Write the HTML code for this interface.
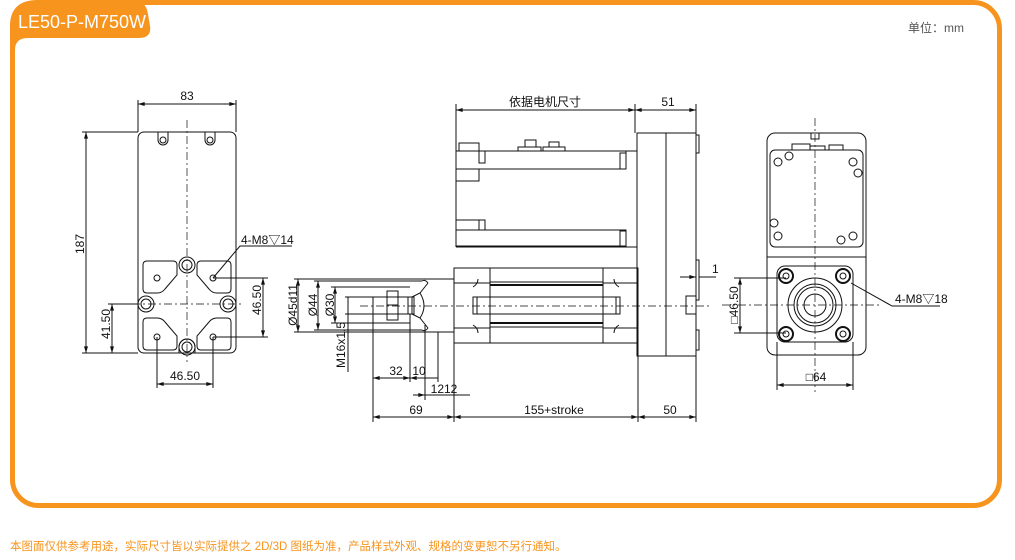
<!DOCTYPE html>
<html><head><meta charset="utf-8"><style>
body{margin:0;background:#fff;width:1015px;height:560px;overflow:hidden}
svg{display:block}
text{font-family:"Liberation Sans","Noto Sans CJK SC",sans-serif;fill:#111}
</style></head><body>
<svg width="1015" height="560" viewBox="0 0 1015 560" xmlns="http://www.w3.org/2000/svg">
<defs>
<marker id="a" viewBox="0 0 10 6" refX="10" refY="3" markerWidth="8" markerHeight="4" orient="auto-start-reverse"><path d="M0,0L10,3L0,6z" fill="#111"/></marker>
</defs>
<!-- frame -->
<rect x="12.5" y="2.5" width="987" height="503" rx="26" fill="none" stroke="#F7941D" stroke-width="5"/>
<path d="M10,26 Q10,0 38,0 L132,0 Q146,0 148,14 L150,26 Q152,38 138,38 L28,38 Q15,38 15,50 L10,50 Z" fill="#F7941D"/>
<text x="18" y="28" font-size="18" style="fill:#fff">LE50-P-M750W</text>
<text x="908" y="32" font-size="12" style="fill:#555">单位：mm</text>
<text x="10" y="550" font-size="11.5" style="fill:#F7941D">本图面仅供参考用途，实际尺寸皆以实际提供之 2D/3D 图纸为准，产品样式外观、规格的变更恕不另行通知。</text>

<g stroke="#111" stroke-width="1" fill="none">
<!-- LEFT VIEW -->
<rect x="138" y="132" width="98" height="221" rx="6"/>
<line x1="187" y1="120" x2="187" y2="362" stroke-dasharray="8,3,2,3" stroke-width="0.7"/>
<line x1="132" y1="304" x2="242" y2="304" stroke-dasharray="8,3,2,3" stroke-width="0.7"/>
<path d="M158,132 v8 a5,5 0 0 0 10,0 v-8 M205,132 v8 a5,5 0 0 0 10,0 v-8"/>
<circle cx="163" cy="140" r="3"/><circle cx="210" cy="140" r="3"/>
<circle cx="187" cy="265" r="8"/><circle cx="187" cy="265" r="5"/>
<circle cx="187" cy="347" r="8"/><circle cx="187" cy="347" r="5"/>
<path d="M179,353 v-6 a8,8 0 0 1 16,0 v6"/>
<circle cx="146" cy="304" r="8"/><circle cx="146" cy="304" r="5"/>
<circle cx="228" cy="304" r="8"/><circle cx="228" cy="304" r="5"/>
<path d="M147,261 h26 q4,0 4,4 v10 l-12,14 q-3,4 -8,4 h-10 q-4,0 -4,-4 v-24 q0,-4 4,-4 z"/>
<path d="M227,261 h-26 q-4,0 -4,4 v10 l12,14 q3,4 8,4 h10 q4,0 4,-4 v-24 q0,-4 -4,-4 z"/>
<path d="M147,350 h26 q4,0 4,-4 v-10 l-12,-14 q-3,-4 -8,-4 h-10 q-4,0 -4,4 v24 q0,4 4,4 z"/>
<path d="M227,350 h-26 q-4,0 -4,-4 v-10 l12,-14 q3,-4 8,-4 h10 q4,0 4,4 v24 q0,4 -4,4 z"/>
<circle cx="157" cy="278" r="3"/><circle cx="213" cy="278" r="3"/><circle cx="157" cy="337" r="3"/><circle cx="213" cy="337" r="3"/>
<!-- left dims -->
<line x1="138" y1="100" x2="138" y2="132"/><line x1="236" y1="100" x2="236" y2="132"/>
<line x1="138" y1="104" x2="236" y2="104" marker-start="url(#a)" marker-end="url(#a)"/>
<line x1="82" y1="132" x2="138" y2="132"/><line x1="82" y1="353" x2="138" y2="353"/>
<line x1="86" y1="132" x2="86" y2="353" marker-start="url(#a)" marker-end="url(#a)"/>
<line x1="108" y1="304" x2="138" y2="304"/>
<line x1="112" y1="304" x2="112" y2="353" marker-start="url(#a)" marker-end="url(#a)"/>
<line x1="213" y1="278" x2="268" y2="278"/><line x1="213" y1="337" x2="268" y2="337"/>
<line x1="263" y1="278" x2="263" y2="337" marker-start="url(#a)" marker-end="url(#a)"/>
<line x1="157" y1="337" x2="157" y2="388"/><line x1="213" y1="337" x2="213" y2="388"/>
<line x1="157" y1="384" x2="213" y2="384" marker-start="url(#a)" marker-end="url(#a)"/>
<path d="M213,278 L240,246 H292"/>

<!-- MIDDLE VIEW -->
<line x1="456" y1="104" x2="456" y2="247"/><line x1="635" y1="104" x2="635" y2="133"/><line x1="696" y1="104" x2="696" y2="133"/>
<line x1="456" y1="110" x2="635" y2="110" marker-start="url(#a)" marker-end="url(#a)"/>
<line x1="635" y1="110" x2="696" y2="110" marker-start="url(#a)" marker-end="url(#a)"/>
<line x1="456" y1="151" x2="637" y2="151"/>
<rect x="456" y="151" width="170" height="18"/>
<rect x="456" y="169" width="23" height="12"/>
<rect x="459" y="143" width="20" height="8"/>
<rect x="479" y="151" width="6" height="12"/>
<rect x="518" y="147" width="23" height="4"/><rect x="525" y="140" width="11" height="7"/>
<rect x="543" y="147" width="22" height="4"/><rect x="549" y="142" width="10" height="5"/>
<rect x="620" y="153" width="6" height="16"/>
<rect x="456" y="220" width="23" height="10"/><rect x="479" y="220" width="6" height="10"/>
<rect x="456" y="230" width="170" height="16"/>
<rect x="620" y="231" width="6" height="15"/>
<line x1="456" y1="247" x2="637" y2="247"/>
<rect x="637" y="133" width="59" height="223"/>
<line x1="666" y1="133" x2="666" y2="356"/>
<path d="M696,135 h3 v18 h-3 M696,260 h3 v40 h-3 M696,330 h3 v20 h-3"/>
<rect x="454" y="268" width="184" height="75"/>
<line x1="490" y1="268" x2="490" y2="343"/><line x1="603" y1="268" x2="603" y2="343"/>
<line x1="490" y1="282" x2="603" y2="282"/><line x1="490" y1="285" x2="603" y2="285" stroke-width="2"/>
<line x1="490" y1="323" x2="603" y2="323" stroke-width="2"/><line x1="490" y1="327" x2="603" y2="327"/>
<line x1="454" y1="283" x2="490" y2="283"/><line x1="454" y1="328" x2="490" y2="328"/>
<line x1="603" y1="283" x2="638" y2="283"/><line x1="603" y1="328" x2="638" y2="328"/>
<rect x="473" y="297" width="147" height="17"/>
<line x1="477" y1="297" x2="477" y2="314"/><line x1="616" y1="297" x2="616" y2="314"/>
<path d="M478,279 q0,5 -5,8 M478,333 q0,-5 -5,-8 M614,279 q0,5 5,8 M614,333 q0,-5 5,-8"/>
<rect x="686" y="296" width="10" height="18"/>
<line x1="360" y1="306" x2="710" y2="306" stroke-dasharray="8,3,2,3" stroke-width="0.7"/>
<rect x="373" y="297" width="41" height="17"/>
<rect x="387" y="291" width="11" height="29"/>
<line x1="387" y1="305" x2="398" y2="305"/>
<rect x="408" y="297" width="4" height="17"/>
<path d="M412,297 L420,293 L428,283 M412,314 L420,318 L428,328 M420,293 q8,13 0,25 M428,283 q-3,-4 -6,-2 M428,328 q-3,4 -6,2"/>
<line x1="428" y1="279" x2="454" y2="279"/><line x1="428" y1="332" x2="454" y2="332"/>
<line x1="294" y1="279" x2="428" y2="279"/><line x1="294" y1="332" x2="428" y2="332"/>
<line x1="298" y1="279" x2="298" y2="332" marker-start="url(#a)" marker-end="url(#a)"/>
<line x1="314" y1="281" x2="422" y2="281"/><line x1="314" y1="330" x2="422" y2="330"/>
<line x1="318" y1="281" x2="318" y2="330" marker-start="url(#a)" marker-end="url(#a)"/>
<line x1="331" y1="287" x2="410" y2="287"/><line x1="331" y1="323" x2="410" y2="323"/>
<line x1="335" y1="287" x2="335" y2="323" marker-start="url(#a)" marker-end="url(#a)"/>
<line x1="345" y1="297" x2="373" y2="297"/><line x1="345" y1="314" x2="373" y2="314"/>
<line x1="348" y1="297" x2="348" y2="372"/>
<line x1="373" y1="314" x2="373" y2="422"/><line x1="410" y1="314" x2="410" y2="382"/>
<line x1="425" y1="325" x2="425" y2="400"/><line x1="438" y1="332" x2="438" y2="382"/>
<line x1="454" y1="343" x2="454" y2="422"/><line x1="638" y1="343" x2="638" y2="422"/><line x1="696" y1="356" x2="696" y2="422"/>
<line x1="373" y1="378" x2="410" y2="378" marker-start="url(#a)" marker-end="url(#a)"/>
<line x1="410" y1="378" x2="438" y2="378" marker-start="url(#a)"/>
<line x1="413" y1="395" x2="425" y2="395" marker-end="url(#a)"/>
<line x1="425" y1="395" x2="470" y2="395"/>
<line x1="373" y1="417" x2="454" y2="417" marker-start="url(#a)" marker-end="url(#a)"/>
<line x1="454" y1="417" x2="638" y2="417" marker-start="url(#a)" marker-end="url(#a)"/>
<line x1="638" y1="417" x2="696" y2="417" marker-start="url(#a)" marker-end="url(#a)"/>
<line x1="680" y1="277" x2="696" y2="277" marker-end="url(#a)"/><line x1="699" y1="277" x2="716" y2="277"/>

<!-- RIGHT VIEW -->
<rect x="767" y="133" width="99" height="222" rx="8"/>
<line x1="767" y1="257" x2="866" y2="257"/>
<line x1="815" y1="118" x2="815" y2="392" stroke-dasharray="8,3,2,3" stroke-width="0.7"/>
<line x1="722" y1="305" x2="880" y2="305" stroke-dasharray="8,3,2,3" stroke-width="0.7"/>
<rect x="770" y="150" width="93" height="97" rx="5"/>
<path d="M792,150 v-6 h18 v6 M810,146 h15 v4 M829,150 v-5 h14 v5"/>
<rect x="811" y="133" width="8" height="6"/>
<circle cx="778" cy="162" r="4"/><circle cx="789" cy="156" r="4"/><circle cx="853" cy="162" r="4"/><circle cx="858" cy="173" r="4"/>
<circle cx="774" cy="223" r="4"/><circle cx="778" cy="236" r="4"/><circle cx="853" cy="236" r="4"/><circle cx="841" cy="240" r="4"/>
<rect x="777" y="266" width="76" height="76" rx="8"/>
<circle cx="815" cy="305" r="27"/><circle cx="815" cy="305" r="21"/><circle cx="815" cy="305" r="18"/><circle cx="815" cy="305" r="11"/>
<circle cx="786" cy="276" r="7" stroke-width="2"/><circle cx="786" cy="276" r="3"/>
<circle cx="843" cy="276" r="7" stroke-width="2"/><circle cx="843" cy="276" r="3"/>
<circle cx="786" cy="334" r="7" stroke-width="2"/><circle cx="786" cy="334" r="3"/>
<circle cx="843" cy="334" r="7" stroke-width="2"/><circle cx="843" cy="334" r="3"/>
<line x1="734" y1="278" x2="786" y2="278"/><line x1="734" y1="333" x2="786" y2="333"/>
<line x1="740" y1="278" x2="740" y2="333" marker-start="url(#a)" marker-end="url(#a)"/>
<line x1="777" y1="342" x2="777" y2="390"/><line x1="853" y1="342" x2="853" y2="390"/>
<line x1="777" y1="385" x2="853" y2="385" marker-start="url(#a)" marker-end="url(#a)"/>
<path d="M851,283 L892,306 H940"/>
</g>

<g font-size="12">
<text x="187" y="100" text-anchor="middle">83</text>
<text transform="translate(84,244) rotate(-90)" text-anchor="middle">187</text>
<text transform="translate(110,324) rotate(-90)" text-anchor="middle">41.50</text>
<text transform="translate(261,300) rotate(-90)" text-anchor="middle">46.50</text>
<text x="185" y="380" text-anchor="middle">46.50</text>
<text x="241" y="244">4-M8▽14</text>
<text x="545" y="106" text-anchor="middle">依据电机尺寸</text>
<text x="668" y="106" text-anchor="middle">51</text>
<text x="712" y="273">1</text>
<text transform="translate(297,305) rotate(-90)" text-anchor="middle">Ø45d11</text>
<text transform="translate(317,305) rotate(-90)" text-anchor="middle">Ø44</text>
<text transform="translate(334,305) rotate(-90)" text-anchor="middle">Ø30</text>
<text transform="translate(345,345) rotate(-90)" text-anchor="middle">M16x1.5</text>
<text x="396" y="375" text-anchor="middle">32</text>
<text x="419" y="375" text-anchor="middle">10</text>
<text x="444" y="393" text-anchor="middle">1212</text>
<text x="416" y="414" text-anchor="middle">69</text>
<text x="554" y="414" text-anchor="middle">155+stroke</text>
<text x="670" y="414" text-anchor="middle">50</text>
<text transform="translate(738,305) rotate(-90)" text-anchor="middle">□46.50</text>
<text x="816" y="381" text-anchor="middle">□64</text>
<text x="895" y="303">4-M8▽18</text>
</g>
</svg>
</body></html>
